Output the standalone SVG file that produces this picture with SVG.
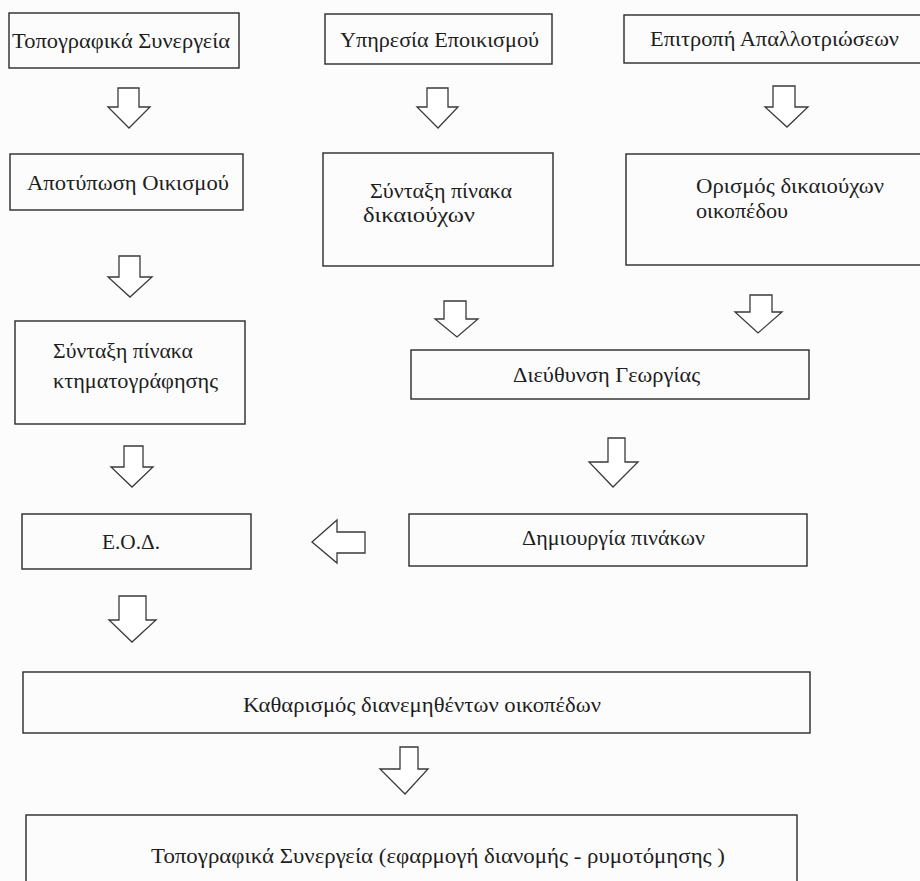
<svg xmlns="http://www.w3.org/2000/svg" width="920" height="881" viewBox="0 0 920 881">
<style>
.box{fill:none;stroke:#2a2a2a;stroke-width:1.4}
.arr{fill:#fff;stroke:#3a3a3a;stroke-width:1.3;stroke-linejoin:miter}
.t{font-family:"Liberation Serif","DejaVu Serif","Times New Roman",serif;font-size:22px;fill:#1e1e1e}
.s{font-size:21px}
</style>
<rect width="920" height="881" fill="#fcfcfc"/>
<g id="connectors">
<polygon class="arr" points="118,88 139,88 139,107 150,107 129,128 108,107 118,107"/>
<polygon class="arr" points="427,88 448,88 448,107 458,107 438,128 417,107 427,107"/>
<polygon class="arr" points="773,86 795,86 795,107 808,107 787,127 765,107 773,107"/>
<polygon class="arr" points="119,256 140,256 140,277 152,277 130,297 108,277 119,277"/>
<polygon class="arr" points="444,301 466,301 466,319 478,319 457,337 435,319 444,319"/>
<polygon class="arr" points="750,295 772,295 772,312 782,312 758,333 735,312 750,312"/>
<polygon class="arr" points="124,446 143,446 143,467 153,467 132,487 111,467 124,467"/>
<polygon class="arr" points="608,438 625,438 625,462 638,462 613,487 589,462 608,462"/>
<polygon class="arr" points="312,542 337,520 337,532 365,532 365,553 337,553 337,563"/>
<polygon class="arr" points="119,596 146,596 146,620 156,620 132,642 109,620 119,620"/>
<polygon class="arr" points="400,747 418,747 418,769 428,769 405,794 380,769 400,769"/>
</g>
<g id="n1"><rect class="box" x="9" y="13" width="230" height="55"/><text class="t" x="12" y="48" textLength="218" lengthAdjust="spacingAndGlyphs">Τοπογραφικά Συνεργεία</text></g>
<g id="n2"><rect class="box" x="325" y="14" width="227" height="50"/><text class="t" x="340" y="47" textLength="199" lengthAdjust="spacingAndGlyphs">Υπηρεσία Εποικισμού</text></g>
<g id="n3"><rect class="box" x="624" y="15" width="306" height="48"/><text class="t" x="650" y="46" textLength="249" lengthAdjust="spacingAndGlyphs">Επιτροπή Απαλλοτριώσεων</text></g>
<g id="n4"><rect class="box" x="10" y="154" width="233" height="56"/><text class="t" x="27" y="190" textLength="202" lengthAdjust="spacingAndGlyphs">Αποτύπωση Οικισμού</text></g>
<g id="n5"><rect class="box" x="323" y="153" width="230" height="113"/><text class="t" x="370" y="198" textLength="142" lengthAdjust="spacingAndGlyphs">Σύνταξη πίνακα</text><text class="t" x="363" y="222" textLength="112" lengthAdjust="spacingAndGlyphs">δικαιούχων</text></g>
<g id="n6"><rect class="box" x="626" y="154" width="304" height="111"/><text class="t" x="696" y="193" textLength="188" lengthAdjust="spacingAndGlyphs">Ορισμός δικαιούχων</text><text class="t" x="696" y="218" textLength="92" lengthAdjust="spacingAndGlyphs">οικοπέδου</text></g>
<g id="n7"><rect class="box" x="15" y="321" width="230" height="103"/><text class="t" x="53" y="358" textLength="140" lengthAdjust="spacingAndGlyphs">Σύνταξη πίνακα</text><text class="t" x="53" y="388" textLength="165" lengthAdjust="spacingAndGlyphs">κτηματογράφησης</text></g>
<g id="n8"><rect class="box" x="411" y="350" width="398" height="49"/><text class="t" x="513" y="382" textLength="187" lengthAdjust="spacingAndGlyphs">Διεύθυνση Γεωργίας</text></g>
<g id="n9"><rect class="box" x="22" y="514" width="229" height="55"/><text class="t" x="102" y="549" textLength="58" lengthAdjust="spacingAndGlyphs">Ε.Ο.Δ.</text></g>
<g id="n10"><rect class="box" x="409" y="514" width="398" height="52"/><text class="t" x="522" y="545" textLength="183" lengthAdjust="spacingAndGlyphs">Δημιουργία πινάκων</text></g>
<g id="n11"><rect class="box" x="23" y="672" width="787" height="61"/><text class="t s" x="243" y="712" textLength="358" lengthAdjust="spacingAndGlyphs">Καθαρισμός διανεμηθέντων οικοπέδων</text></g>
<g id="n12"><rect class="box" x="26" y="815" width="771" height="90"/><text class="t s" x="151" y="863" textLength="574" lengthAdjust="spacingAndGlyphs">Τοπογραφικά Συνεργεία (εφαρμογή διανομής - ρυμοτόμησης )</text></g>
</svg>
